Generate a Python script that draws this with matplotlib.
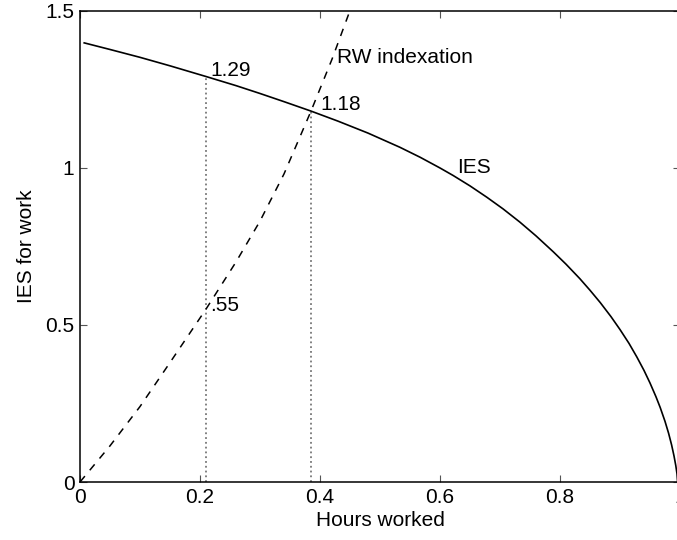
import matplotlib
matplotlib.use('Agg')
import matplotlib.pyplot as plt

# IES for work curve
IES_X = [0.007, 0.05, 0.10, 0.15, 0.21, 0.26, 0.30, 0.34, 0.385, 0.43,
         0.48, 0.533, 0.567, 0.60, 0.622, 0.65, 0.678, 0.705, 0.733, 0.76,
         0.789, 0.81, 0.833, 0.85, 0.867, 0.885, 0.90, 0.915, 0.928, 0.94,
         0.95, 0.96, 0.967, 0.975, 0.981, 0.986, 0.99, 0.993, 0.995, 0.996]
IES_Y = [1.397, 1.376, 1.351, 1.324, 1.290, 1.261, 1.236, 1.210, 1.180, 1.148,
         1.110, 1.065, 1.033, 0.999, 0.975, 0.942, 0.906, 0.869, 0.827, 0.783,
         0.732, 0.693, 0.647, 0.610, 0.571, 0.526, 0.485, 0.441, 0.398, 0.355,
         0.315, 0.271, 0.237, 0.193, 0.155, 0.118, 0.083, 0.052, 0.026, 0.0]

# RW indexation curve
RW_X = [0.0, 0.05, 0.10, 0.15, 0.21, 0.26, 0.30, 0.34, 0.385, 0.42, 0.45]
RW_Y = [0.0, 0.115, 0.24, 0.38, 0.55, 0.70, 0.83, 0.98, 1.18, 1.345, 1.5]

# dotted markers: (hours, IES value)
MARK_X = [0.21, 0.385]
MARK_TOP = [1.29, 1.18]

plt.rcParams['font.family'] = ['Liberation Sans', 'DejaVu Sans']
FS = 15

fig = plt.figure(figsize=(6.77, 5.40), dpi=100)
ax = fig.add_axes([80 / 677, 58 / 540, 600 / 677, 471.5 / 540])

for x, top in zip(MARK_X, MARK_TOP):
    ax.plot([x, x], [0, top], ls=':', color='#777777', lw=1.3)
ax.plot(IES_X, IES_Y, color='black', lw=1.2)
ax.plot(RW_X, RW_Y, color='black', lw=1.1, ls=(0, (5, 5)))

ax.text(0.217, 1.31, '1.29', fontsize=FS, va='center')
ax.text(0.40, 1.20, '1.18', fontsize=FS, va='center')
ax.text(0.217, 0.563, '.55', fontsize=FS, va='center')
ax.text(0.428, 1.352, 'RW indexation', fontsize=FS, va='center')
ax.text(0.628, 1.00, 'IES', fontsize=FS, va='center')

ax.set_xlim(0, 1)
ax.set_ylim(0, 1.5)
ax.set_xticks([0, 0.2, 0.4, 0.6, 0.8, 1.0])
ax.set_xticklabels(['0', '0.2', '0.4', '0.6', '0.8', '1'])
ax.set_yticks([0, 0.5, 1.0, 1.5])
ax.set_yticklabels(['0', '0.5', '1', '1.5'])
ax.tick_params(direction='in', top=True, right=True, length=5,
               color='#555555', labelsize=FS, pad=4)
for s in ax.spines.values():
    s.set_linewidth(1.1)
ax.set_xlabel('Hours worked', fontsize=FS, labelpad=3)
ax.set_ylabel('IES for work', fontsize=FS, labelpad=7)

fig.savefig('out.png', dpi=100)
